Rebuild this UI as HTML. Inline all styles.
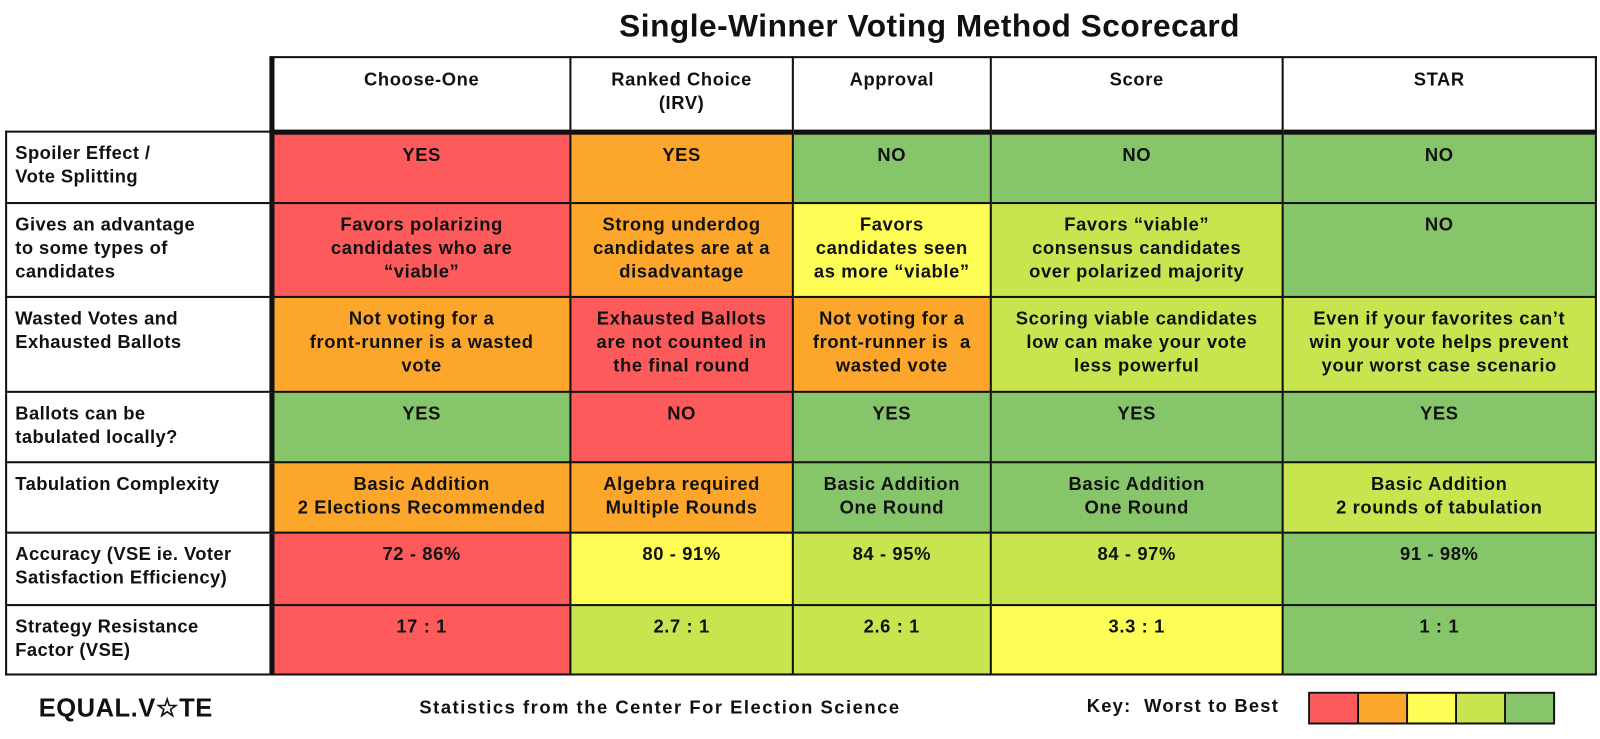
<!DOCTYPE html>
<html><head><meta charset="utf-8"><style>
body{margin:0;width:1600px;height:739px;background:#fff;overflow:hidden;font-family:"Liberation Sans",sans-serif;font-weight:bold;color:#111}
#wrap{position:absolute;left:0;top:0;width:1568px;height:724px;transform:scale(1.0204);transform-origin:0 0}
.t{position:absolute;left:561px;width:700px;top:8px;text-align:center;font-size:31px;letter-spacing:0.5px}
table{position:absolute;left:5px;top:55px;width:1558px;border-collapse:collapse;table-layout:fixed}
td{border:2px solid #111;vertical-align:top;text-align:center;font-size:18px;letter-spacing:0.6px;line-height:23px;padding:9px 2px 0 2px;box-sizing:border-box;white-space:nowrap}
td.l{text-align:left;padding-left:8px;letter-spacing:0.4px}
tr.h td{padding-top:10px;background:#fff}
tr.h td.blank{border:none}
td.c1{border-left:5px solid #111}
tr.h td{border-bottom:5px solid #111}
.R{background:#fd5b5b}.O{background:#fca62c}.Y{background:#fdfd55}.L{background:#c8e550}.G{background:#87c56a}
.f{position:absolute;font-size:18px;white-space:nowrap}
.key{position:absolute;left:1282px;top:678px;display:flex;border:2px solid #111}
.key div{width:46px;height:28px;border-right:2px solid #111}
.key div:last-child{border-right:none}
</style></head><body>
<div id="wrap">
<div class="t">Single-Winner Voting Method Scorecard</div>
<table>
<colgroup><col style="width:260px"><col style="width:293px"><col style="width:218px"><col style="width:194px"><col style="width:286px"><col style="width:307px"></colgroup>
<tr class="h" style="height:73px"><td class="blank"></td><td class="c1">Choose-One</td><td>Ranked Choice<br>(IRV)</td><td>Approval</td><td>Score</td><td>STAR</td></tr>
<tr style="height:70px"><td class="l">Spoiler Effect /<br>Vote Splitting</td><td class="c1 R">YES</td><td class="O">YES</td><td class="G">NO</td><td class="G">NO</td><td class="G">NO</td></tr>
<tr style="height:92px"><td class="l">Gives an advantage<br>to some types of<br>candidates</td><td class="c1 R">Favors polarizing<br>candidates who are<br>“viable”</td><td class="O">Strong underdog<br>candidates are at a<br>disadvantage</td><td class="Y">Favors<br>candidates seen<br>as more “viable”</td><td class="L">Favors “viable”<br>consensus candidates<br>over polarized majority</td><td class="G">NO</td></tr>
<tr style="height:93px"><td class="l">Wasted Votes and<br>Exhausted Ballots</td><td class="c1 O">Not voting for a<br>front-runner is a wasted<br>vote</td><td class="R">Exhausted Ballots<br>are not counted in<br>the final round</td><td class="O">Not voting for a<br>front-runner is &nbsp;a<br>wasted vote</td><td class="L">Scoring viable candidates<br>low can make your vote<br>less powerful</td><td class="L">Even if your favorites can’t<br>win your vote helps prevent<br>your worst case scenario</td></tr>
<tr style="height:69px"><td class="l">Ballots can be<br>tabulated locally?</td><td class="c1 G">YES</td><td class="R">NO</td><td class="G">YES</td><td class="G">YES</td><td class="G">YES</td></tr>
<tr style="height:69px"><td class="l">Tabulation Complexity</td><td class="c1 O">Basic Addition<br>2 Elections Recommended</td><td class="O">Algebra required<br>Multiple Rounds</td><td class="G">Basic Addition<br>One Round</td><td class="G">Basic Addition<br>One Round</td><td class="L">Basic Addition<br>2 rounds of tabulation</td></tr>
<tr style="height:71px"><td class="l">Accuracy (VSE ie. Voter<br>Satisfaction Efficiency)</td><td class="c1 R">72 - 86%</td><td class="Y">80 - 91%</td><td class="L">84 - 95%</td><td class="L">84 - 97%</td><td class="G">91 - 98%</td></tr>
<tr style="height:68px"><td class="l">Strategy Resistance<br>Factor (VSE)</td><td class="c1 R">17 : 1</td><td class="L">2.7 : 1</td><td class="L">2.6 : 1</td><td class="Y">3.3 : 1</td><td class="G">1 : 1</td></tr>
</table>
<div class="f" style="left:38px;top:679px;font-size:25px;letter-spacing:0.5px">EQUAL.V☆TE</div>
<div class="f" style="left:411px;top:683px;letter-spacing:1.5px">Statistics from the Center For Election Science</div>
<div class="f" style="left:1065px;top:682px;letter-spacing:1.2px">Key: &nbsp;Worst to Best</div>
<div class="key"><div class="R"></div><div class="O"></div><div class="Y"></div><div class="L"></div><div class="G"></div></div>
</div>
</body></html>
